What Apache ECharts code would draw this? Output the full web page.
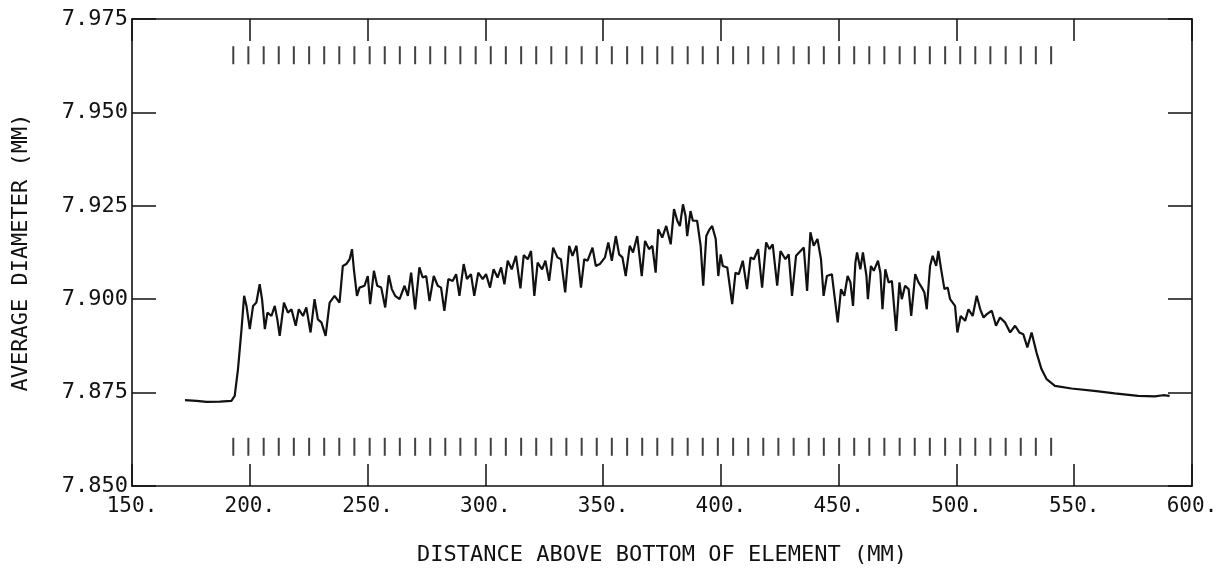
<!DOCTYPE html>
<html>
<head>
<meta charset="utf-8">
<script src="https://cdn.jsdelivr.net/npm/echarts/dist/echarts.min.js"></script>
<style>
  html, body { margin: 0; padding: 0; background: #fff; }
  #chart { width: 1231px; height: 574px; }
</style>
</head>
<body>
<div id="chart"></div>
<script>
// ---- data ----
const xTitle = 'DISTANCE ABOVE BOTTOM OF ELEMENT (MM)';
const yTitle = 'AVERAGE DIAMETER (MM)';

const distance = [
  172.5,177.4,181.7,187.3,192.2,193.6,195.0,196.5,197.6,198.6,
  200.0,201.4,202.8,204.2,205.2,206.4,207.5,209.2,210.6,211.7,
  212.7,214.5,216.2,217.7,219.5,220.8,222.6,224.0,225.8,227.5,
  228.9,230.4,232.2,233.9,236.0,238.1,239.5,241.0,242.4,243.4,
  244.2,245.5,246.6,248.7,250.1,251.1,252.7,254.1,255.8,257.5,
  259.0,260.3,261.7,263.6,265.7,267.1,268.5,270.2,272.0,273.4,
  274.9,276.3,278.1,279.8,281.2,282.6,284.3,286.1,287.6,289.0,
  290.8,292.2,293.9,295.3,297.0,298.9,300.3,302.0,303.5,305.2,
  306.7,308.1,309.5,311.2,313.0,314.9,316.3,318.0,319.4,320.8,
  322.2,324.1,325.5,327.1,328.8,330.6,332.1,333.9,335.6,337.0,
  338.7,340.6,342.0,343.4,345.5,346.9,348.6,350.8,352.2,353.7,
  355.4,356.8,358.2,359.6,361.3,362.7,364.5,366.4,367.8,369.5,
  370.9,372.3,373.4,375.1,376.8,378.7,380.1,381.5,382.6,383.9,
  385.0,385.7,387.1,388.1,389.9,391.4,392.5,393.8,395.2,396.3,
  397.8,398.9,399.9,400.8,402.7,404.8,406.2,407.6,409.3,411.1,
  412.6,414.0,415.8,417.5,419.2,420.6,422.0,423.9,425.3,427.4,
  428.8,430.2,431.9,433.8,435.2,436.6,438.0,439.4,441.0,442.5,
  443.6,445.0,447.1,449.6,451.0,452.4,453.8,455.0,456.1,457.1,
  457.8,459.2,460.3,461.8,462.4,463.7,464.9,466.7,467.7,468.6,
  469.8,471.2,472.6,474.4,475.8,476.8,478.2,479.7,480.8,482.5,
  483.9,485.3,486.4,487.4,488.8,489.9,491.4,492.3,493.5,494.9,
  496.3,497.3,499.4,500.4,501.8,503.7,505.1,506.9,508.6,510.1,
  511.5,512.9,515.0,516.8,518.5,520.6,522.8,524.9,526.7,528.4,
  530.1,531.9,534.0,536.1,538.3,541.8,548.8,559.4,567.2,577.1,
  584.2,587.7,590.5
];

const diameter = [
  7.8730,7.8728,7.8725,7.8726,7.8728,7.8741,7.8813,7.8920,7.9009,7.8982,
  7.8920,7.8982,7.8991,7.9040,7.9000,7.8920,7.8964,7.8955,7.8982,7.8946,
  7.8902,7.8991,7.8964,7.8973,7.8929,7.8973,7.8955,7.8978,7.8911,7.9000,
  7.8946,7.8938,7.8902,7.8991,7.9009,7.8991,7.9089,7.9094,7.9107,7.9134,
  7.9080,7.9009,7.9031,7.9036,7.9062,7.8987,7.9076,7.9036,7.9031,7.8978,
  7.9064,7.9027,7.9009,7.9000,7.9036,7.9009,7.9071,7.8973,7.9085,7.9058,
  7.9062,7.8995,7.9062,7.9036,7.9031,7.8969,7.9054,7.9049,7.9067,7.9009,
  7.9094,7.9054,7.9067,7.9009,7.9071,7.9054,7.9067,7.9031,7.9080,7.9058,
  7.9085,7.9040,7.9103,7.9080,7.9116,7.9029,7.9118,7.9107,7.9129,7.9009,
  7.9098,7.9080,7.9103,7.9049,7.9138,7.9112,7.9107,7.9018,7.9143,7.9116,
  7.9143,7.9031,7.9107,7.9103,7.9138,7.9089,7.9094,7.9112,7.9152,7.9103,
  7.9169,7.9120,7.9112,7.9062,7.9143,7.9125,7.9169,7.9062,7.9156,7.9134,
  7.9143,7.9071,7.9187,7.9165,7.9196,7.9147,7.9241,7.9210,7.9196,7.9254,
  7.9223,7.9169,7.9236,7.9210,7.9210,7.9143,7.9036,7.9169,7.9187,7.9196,
  7.9161,7.9062,7.9120,7.9089,7.9085,7.8987,7.9071,7.9067,7.9103,7.9027,
  7.9112,7.9107,7.9134,7.9031,7.9152,7.9134,7.9147,7.9036,7.9129,7.9107,
  7.9120,7.9009,7.9116,7.9129,7.9138,7.9022,7.9179,7.9143,7.9161,7.9107,
  7.9009,7.9062,7.9067,7.8938,7.9027,7.9009,7.9062,7.9045,7.8982,7.9098,
  7.9125,7.9080,7.9125,7.9062,7.9000,7.9089,7.9076,7.9103,7.9071,7.8973,
  7.9080,7.9045,7.9049,7.8915,7.9045,7.9000,7.9036,7.9027,7.8955,7.9067,
  7.9045,7.9031,7.9018,7.8973,7.9089,7.9116,7.9089,7.9129,7.9080,7.9027,
  7.9031,7.9000,7.8982,7.8911,7.8955,7.8942,7.8973,7.8955,7.9009,7.8973,
  7.8951,7.8960,7.8969,7.8929,7.8951,7.8938,7.8911,7.8929,7.8911,7.8906,
  7.8871,7.8911,7.8857,7.8813,7.8786,7.8768,7.8761,7.8754,7.8748,7.8741,
  7.8740,7.8743,7.8741
];

// positions of the element marks (rows of short vertical dashes)
const markPositions = [
  193.0,199.4,205.9,212.3,218.7,225.2,231.6,238.0,244.4,250.9,
  257.3,263.7,270.2,276.6,283.0,289.4,295.9,302.3,308.7,315.2,
  321.6,328.0,334.4,340.9,347.3,353.7,360.2,366.6,373.0,379.4,
  385.9,392.3,398.7,405.2,411.6,418.0,424.4,430.9,437.3,443.7,
  450.2,456.6,463.0,469.4,475.9,482.3,488.7,495.2,501.6,508.0,
  514.4,520.9,527.3,533.7,540.2
];
const topMarkLevel = 7.9653;
const bottomMarkLevel = 7.8605;

const xMin = 150, xMax = 600, xStep = 50;
const yMin = 7.850, yMax = 7.975, yStep = 0.025;

// ---- chart ----
const FONT = 'DejaVu Sans Mono';
const black = '#111';
const axisLine = { show: true, lineStyle: { color: black, width: 1.6 } };
const tick = (len) => ({ show: true, inside: true, length: len, lineStyle: { color: black, width: 1.5 } });

const chart = echarts.init(document.getElementById('chart'), null, { renderer: 'canvas' });
chart.setOption({
  animation: false,
  backgroundColor: '#fff',
  grid: { left: 132, right: 39, top: 19, bottom: 88, containLabel: false },
  xAxis: [
    {
      type: 'value', position: 'bottom', min: xMin, max: xMax, interval: xStep,
      axisLine: axisLine, axisTick: tick(22), splitLine: { show: false },
      axisLabel: { formatter: v => v + '.', color: black, fontFamily: FONT, fontSize: 21, margin: 10 },
      name: xTitle, nameLocation: 'middle', nameGap: 58,
      nameTextStyle: { color: black, fontFamily: FONT, fontSize: 22 }
    },
    {
      type: 'value', position: 'top', min: xMin, max: xMax, interval: xStep,
      axisLine: axisLine, axisTick: tick(22), splitLine: { show: false },
      axisLabel: { show: false }
    }
  ],
  yAxis: [
    {
      type: 'value', position: 'left', min: yMin, max: yMax, interval: yStep,
      axisLine: axisLine, axisTick: tick(24), splitLine: { show: false },
      axisLabel: { formatter: v => v.toFixed(3), color: black, fontFamily: FONT, fontSize: 22, margin: 4 },
      name: yTitle, nameLocation: 'middle', nameGap: 100, nameRotate: 90,
      nameTextStyle: { color: black, fontFamily: FONT, fontSize: 22 }
    },
    {
      type: 'value', position: 'right', min: yMin, max: yMax, interval: yStep,
      axisLine: axisLine, axisTick: tick(24), splitLine: { show: false },
      axisLabel: { show: false }
    }
  ],
  series: [
    {
      type: 'line', xAxisIndex: 0, yAxisIndex: 0,
      data: distance.map((d, i) => [d, diameter[i]]),
      showSymbol: false, symbol: 'none',
      lineStyle: { color: black, width: 2.2 },
      z: 3
    },
    {
      type: 'scatter', xAxisIndex: 0, yAxisIndex: 0,
      data: markPositions.map(d => [d, topMarkLevel]),
      symbol: 'rect', symbolSize: [2, 18],
      itemStyle: { color: black }
    },
    {
      type: 'scatter', xAxisIndex: 0, yAxisIndex: 0,
      data: markPositions.map(d => [d, bottomMarkLevel]),
      symbol: 'rect', symbolSize: [2, 18],
      itemStyle: { color: black }
    }
  ]
});
</script>
</body>
</html>
